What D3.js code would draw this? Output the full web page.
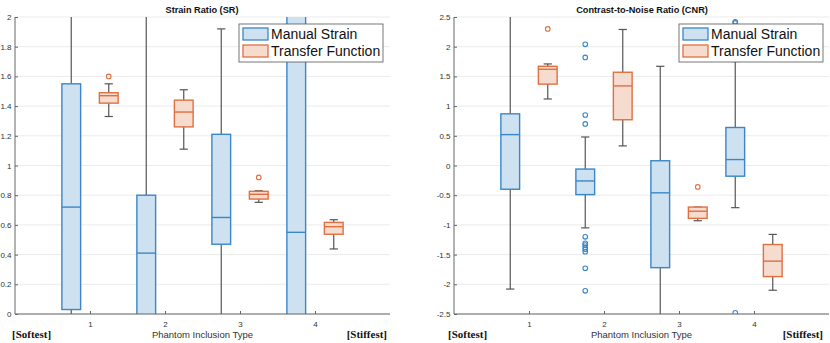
<!DOCTYPE html>
<html>
<head>
<meta charset="utf-8">
<script src="https://cdn.jsdelivr.net/npm/d3@7.9.0/dist/d3.min.js"></script>
<style>
  html, body { margin: 0; padding: 0; background: #fff; }
  svg { display: block; font-family: "Liberation Sans", Arial, Helvetica, sans-serif; }
</style>
</head>
<body>
<svg id="chart" width="830" height="343"></svg>
<script>
// phantom inclusion types
var categories = [1, 2, 3, 4]
var seriesNames = ['Manual Strain', 'Transfer Function']

// each box: [lower whisker, q1, median, q3, upper whisker]
var srManualStats = [
    [-0.4, 0.03, 0.72, 1.55, 3.0],
    [-0.8, -0.3, 0.41, 0.80, 2.6],
    [-0.2, 0.47, 0.65, 1.21, 1.92],
    [-1.5, -0.6, 0.55, 2.3, 4.0]
]
var srManualOutliers = [[], [], [], []]
var srTransferStats = [
    [1.33, 1.42, 1.47, 1.49, 1.55],
    [1.11, 1.26, 1.36, 1.44, 1.51],
    [0.752, 0.774, 0.806, 0.826, 0.83],
    [0.438, 0.537, 0.588, 0.617, 0.635]
]
var srTransferOutliers = [[1.60], [], [0.92], []]

var cnrManualStats = [
    [-2.08, -0.40, 0.52, 0.87, 3.2],
    [-1.05, -0.49, -0.26, -0.06, 0.48],
    [-3.0, -1.72, -0.46, 0.08, 1.67],
    [-0.71, -0.18, 0.10, 0.64, 1.75]
]
var cnrManualOutliers = [
    [],
    [2.04, 1.82, 0.85, 0.70, -1.20, -1.31, -1.34, -1.38, -1.41, -1.45, -1.73, -2.11],
    [],
    [2.42, 2.40, -2.48]
]
var cnrTransferStats = [
    [1.12, 1.37, 1.62, 1.67, 1.71],
    [0.33, 0.77, 1.34, 1.57, 2.29],
    [-0.93, -0.89, -0.77, -0.70, -0.70],
    [-2.10, -1.87, -1.61, -1.33, -1.16]
]
var cnrTransferOutliers = [[2.30], [], [-0.36], []]

var srTicks = [0, 0.2, 0.4, 0.6, 0.8, 1, 1.2, 1.4, 1.6, 1.8, 2]
var cnrTicks = [-2.5, -2, -1.5, -1, -0.5, 0, 0.5, 1, 1.5, 2, 2.5]

var COLORS = {
    manual: { stroke: '#3a87c8', fill: '#cde1f0' },
    transfer: { stroke: '#e0703f', fill: '#f6dccf' }
}
var WHISKER = '#555'

var svg = d3.select('#chart')

function fmt(v) {
    return String(+v.toFixed(2))
}

function drawPanel(opt) {
    var left = opt.left, right = opt.left + 375
    var top = 17, bottom = 314
    var g = svg.append('g')

    var x = d3.scaleLinear().domain([0, 5]).range([left, right])
    var y = d3.scaleLinear().domain(opt.domain).range([bottom, top])

    // grid
    g.append('g').selectAll('line').data(opt.ticks).join('line')
        .attr('x1', left).attr('x2', right)
        .attr('y1', function (d) { return y(d) }).attr('y2', function (d) { return y(d) })
        .attr('stroke', '#ebebeb').attr('stroke-width', 1)

    var clipId = 'clip-' + opt.id
    svg.append('clipPath').attr('id', clipId).append('rect')
        .attr('x', left).attr('y', top).attr('width', right - left).attr('height', bottom - top)

    var plot = g.append('g').attr('clip-path', 'url(#' + clipId + ')')

    var boxW = x(0.25) - x(0)
    var capW = x(0.11) - x(0)

    opt.series.forEach(function (s) {
        var col = COLORS[s.key]
        s.stats.forEach(function (st, i) {
            var cx = x(categories[i] + s.offset)
            var bg = plot.append('g')
            // whiskers
            bg.append('line').attr('x1', cx).attr('x2', cx)
                .attr('y1', y(st[3])).attr('y2', y(st[4]))
                .attr('stroke', WHISKER).attr('stroke-width', 1.2)
            bg.append('line').attr('x1', cx).attr('x2', cx)
                .attr('y1', y(st[1])).attr('y2', y(st[0]))
                .attr('stroke', WHISKER).attr('stroke-width', 1.2)
            ;[st[0], st[4]].forEach(function (v) {
                bg.append('line').attr('x1', cx - capW / 2).attr('x2', cx + capW / 2)
                    .attr('y1', y(v)).attr('y2', y(v))
                    .attr('stroke', WHISKER).attr('stroke-width', 1.2)
            })
            // box
            bg.append('rect')
                .attr('x', cx - boxW / 2).attr('width', boxW)
                .attr('y', y(st[3])).attr('height', y(st[1]) - y(st[3]))
                .attr('fill', col.fill).attr('stroke', col.stroke).attr('stroke-width', 1.4)
            bg.append('line').attr('x1', cx - boxW / 2).attr('x2', cx + boxW / 2)
                .attr('y1', y(st[2])).attr('y2', y(st[2]))
                .attr('stroke', col.stroke).attr('stroke-width', 1.4)
            // outliers
            bg.selectAll('circle').data(s.outliers[i]).join('circle')
                .attr('cx', cx).attr('cy', function (d) { return y(d) })
                .attr('r', 2.3).attr('fill', 'none')
                .attr('stroke', col.stroke).attr('stroke-width', 1.1)
        })
    })

    // axes
    var yAxis = d3.axisLeft(y).tickValues(opt.ticks).tickFormat(fmt).tickSize(-3).tickPadding(3.5)
    var ga = g.append('g').attr('transform', 'translate(' + left + ',0)').call(yAxis)
    var xAxis = d3.axisBottom(x).tickValues(categories).tickFormat(d3.format('d')).tickSize(-3).tickPadding(7)
    var gx = g.append('g').attr('transform', 'translate(0,' + bottom + ')').call(xAxis)
    ;[ga, gx].forEach(function (a) {
        a.select('.domain').attr('stroke', '#666').attr('stroke-width', 1).attr('d',
            a === ga ? 'M0,' + top + 'V' + bottom : 'M' + left + ',0H' + right)
        a.selectAll('.tick line').attr('stroke', '#666')
        a.selectAll('.tick text').attr('fill', '#333').attr('font-size', 8)
            .attr('font-family', '"Liberation Sans", Arial, sans-serif')
    })

    // title
    g.append('text').attr('x', opt.titleX).attr('y', 13).attr('text-anchor', 'middle')
        .attr('font-size', 9.2).attr('font-weight', 'bold').attr('fill', '#111').text(opt.title)

    // x label + extremes
    g.append('text').attr('x', (left + right) / 2).attr('y', 338)
        .attr('text-anchor', 'middle').attr('font-size', 9.5).attr('fill', '#333')
        .text('Phantom Inclusion Type')
    g.append('text').attr('x', opt.softX).attr('y', 338)
        .attr('font-family', '"Liberation Serif", "Times New Roman", serif')
        .attr('font-weight', 'bold').attr('font-size', 11).attr('fill', '#111').text('[Softest]')
    g.append('text').attr('x', opt.stiffX).attr('y', 338).attr('text-anchor', 'end')
        .attr('font-family', '"Liberation Serif", "Times New Roman", serif')
        .attr('font-weight', 'bold').attr('font-size', 11).attr('fill', '#111').text('[Stiffest]')

    // legend
    var lx = opt.legendX, ly = 24
    var lg = g.append('g')
    lg.append('rect').attr('x', lx).attr('y', ly).attr('width', 144).attr('height', 38)
        .attr('fill', '#fff').attr('stroke', '#555').attr('stroke-width', 0.8)
    ;['manual', 'transfer'].forEach(function (k, i) {
        var yy = ly + 4 + i * 17
        lg.append('rect').attr('x', lx + 4).attr('y', yy).attr('width', 25).attr('height', 12)
            .attr('fill', COLORS[k].fill).attr('stroke', COLORS[k].stroke).attr('stroke-width', 1.3)
        lg.append('text').attr('x', lx + 32).attr('y', yy + 11).attr('font-size', 14)
            .attr('fill', '#111').text(seriesNames[i])
    })
}

drawPanel({
    id: 'sr', left: 15, domain: [0, 2], ticks: srTicks,
    title: 'Strain Ratio (SR)', titleX: 202,
    softX: 12, stiffX: 387, legendX: 239,
    series: [
        { key: 'manual', offset: -0.25, stats: srManualStats, outliers: srManualOutliers },
        { key: 'transfer', offset: 0.25, stats: srTransferStats, outliers: srTransferOutliers }
    ]
})

drawPanel({
    id: 'cnr', left: 454, domain: [-2.5, 2.5], ticks: cnrTicks,
    title: 'Contrast-to-Noise Ratio (CNR)', titleX: 642,
    softX: 448, stiffX: 823, legendX: 679,
    series: [
        { key: 'manual', offset: -0.25, stats: cnrManualStats, outliers: cnrManualOutliers },
        { key: 'transfer', offset: 0.25, stats: cnrTransferStats, outliers: cnrTransferOutliers }
    ]
})
</script>
</body>
</html>
